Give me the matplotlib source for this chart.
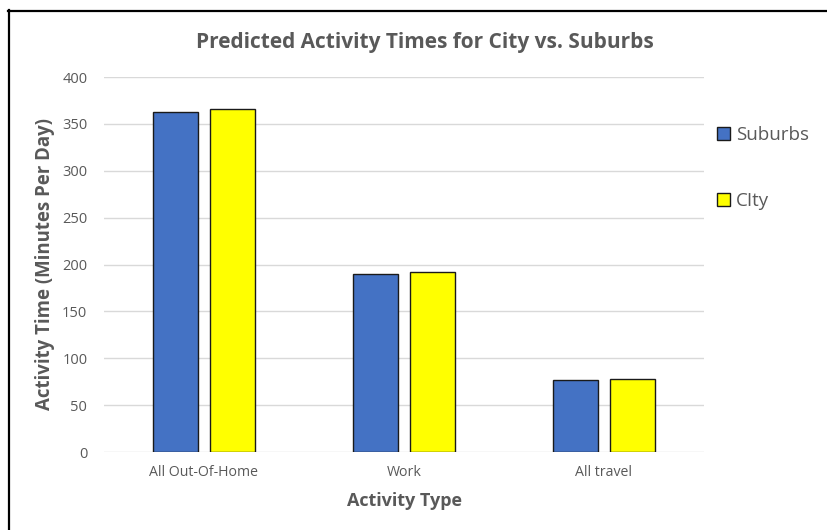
from matplotlib import pyplot as plt
from matplotlib.lines import Line2D
import numpy as np

categories = ["All Out-Of-Home", "Work", "All travel"]
suburbs = [363, 189.5, 77]
city = [366, 192, 78]
series_names = ["Suburbs", "CIty"]

text_gray = "#595959"
grid_gray = "#d9d9d9"

plt.rcParams["font.family"] = ["Open Sans", "DejaVu Sans"]

W, H = 828, 530
fig = plt.figure(figsize=(W / 100, H / 100), dpi=100)
ax = fig.add_axes([104 / W, 78 / H, 600 / W, 375 / H])

x = np.arange(len(categories))
width = 0.225
offset = 0.1425
ax.bar(x - offset, suburbs, width, color="#4472c4", edgecolor="#1a1a1a", linewidth=1.0, label=series_names[0], zorder=3)
ax.bar(x + offset, city, width, color="#ffff00", edgecolor="#1a1a1a", linewidth=1.0, label=series_names[1], zorder=3)

ax.set_xlim(-0.5, 2.5)
ax.set_ylim(0, 400)
ax.set_yticks(np.arange(0, 401, 50))
ax.set_xticks(x)
ax.set_xticklabels(categories, fontsize=10.2, color=text_gray)
ax.tick_params(axis="y", labelsize=10.5, colors=text_gray, length=0, pad=12)
ax.tick_params(axis="x", length=0, pad=9)
ax.grid(axis="y", color=grid_gray, linewidth=1, zorder=0)
for s in ax.spines.values():
    s.set_visible(False)

ax.set_xlabel("Activity Type", fontsize=13, fontweight="bold", color=text_gray, va="center")
ax.xaxis.set_label_coords((405 - 104) / 600, (452 - 501) / 375)
ax.set_ylabel("Activity Time (Minutes Per Day)", fontsize=13.4, fontweight="bold", color=text_gray, va="center")
ax.yaxis.set_label_coords((45 - 104) / 600, 0.5)

fig.text(424.5 / W, 1 - 48 / H, "Predicted Activity Times for City vs. Suburbs",
         ha="center", va="baseline", fontsize=15, fontweight="bold", color=text_gray)

fig.legend(loc="upper left", bbox_to_anchor=(717 / W, 1 - 126 / H), frameon=False,
           fontsize=13.5, labelcolor=text_gray, handlelength=0.69, handleheight=0.69,
           handletextpad=0.32, labelspacing=2.57, borderpad=0, borderaxespad=0)

# screenshot frame: only left and top edges are inside the picture
fig.add_artist(Line2D([8.5 / W, 8.5 / W], [0, 1 - 10 / H], color="black", linewidth=1.6))
fig.add_artist(Line2D([8 / W, 1], [1 - 10.5 / H, 1 - 10.5 / H], color="black", linewidth=1.6))

fig.savefig("out.png", dpi=100)
